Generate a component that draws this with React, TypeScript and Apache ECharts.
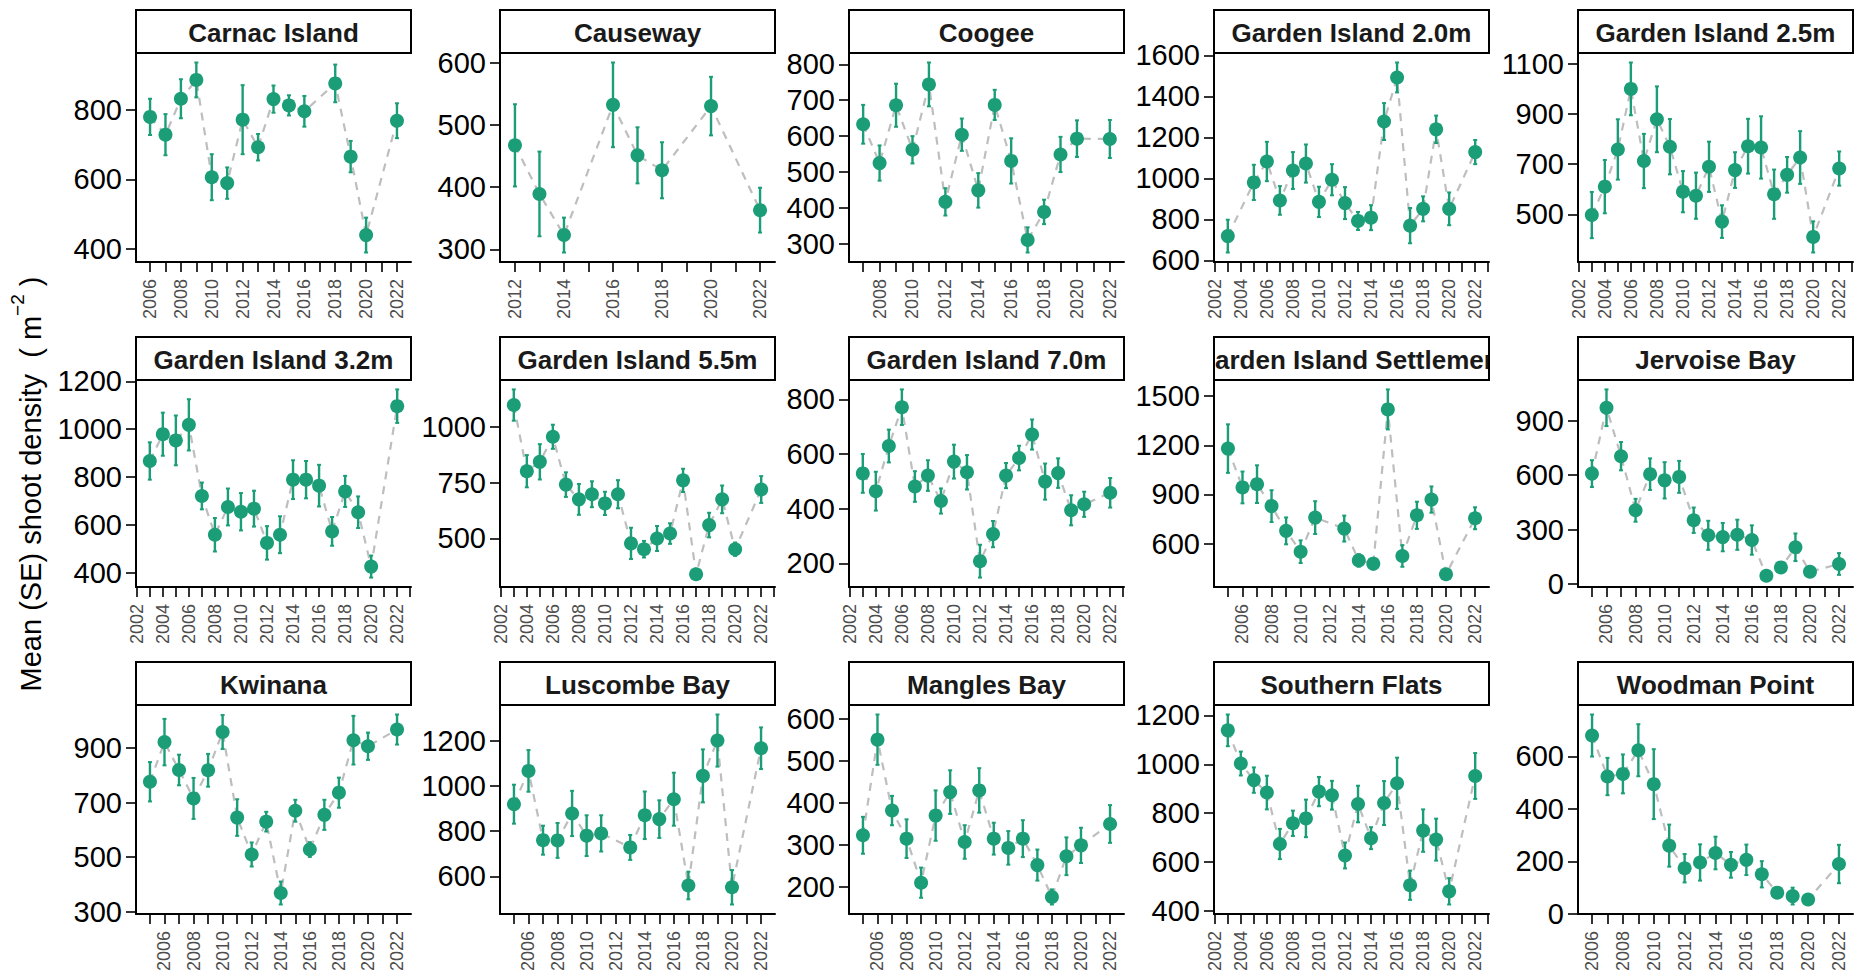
import React, { useEffect, useRef } from "react";
import * as echarts from "echarts";

// ---------------- DATA ----------------
const siteNames = [
  "Carnac Island", "Causeway", "Coogee", "Garden Island 2.0m", "Garden Island 2.5m",
  "Garden Island 3.2m", "Garden Island 5.5m", "Garden Island 7.0m", "Garden Island Settlement", "Jervoise Bay",
  "Kwinana", "Luscombe Bay", "Mangles Bay", "Southern Flats", "Woodman Point",
];

const carnacYears = [2006, 2007, 2008, 2009, 2010, 2011, 2012, 2013, 2014, 2015, 2016, 2018, 2019, 2020, 2022];
const carnacMean = [779, 728, 831, 885, 606, 589, 771, 692, 830, 812, 795, 875, 665, 440, 768];
const carnacSE = [52, 59, 56, 50, 66, 45, 99, 38, 39, 29, 44, 54, 45, 50, 50];
const carnacTicks = [400, 600, 800];

const causewayYears = [2012, 2013, 2014, 2016, 2017, 2018, 2020, 2022];
const causewayMean = [467, 389, 323, 532, 451, 427, 530, 363];
const causewaySE = [66, 68, 28, 68, 45, 45, 47, 36];
const causewayTicks = [300, 400, 500, 600];

const coogeeYears = [2007, 2008, 2009, 2010, 2011, 2012, 2013, 2014, 2015, 2016, 2017, 2018, 2019, 2020, 2022];
const coogeeMean = [633, 525, 686, 562, 744, 417, 604, 449, 687, 531, 311, 389, 549, 593, 592];
const coogeeSE = [54, 49, 60, 38, 61, 38, 45, 48, 42, 63, 35, 34, 49, 51, 53];
const coogeeTicks = [300, 400, 500, 600, 700, 800];

const gi20Years = [2003, 2005, 2006, 2007, 2008, 2009, 2010, 2011, 2012, 2013, 2014, 2015, 2016, 2017, 2018, 2019, 2020, 2022];
const gi20Mean = [718, 980, 1082, 892, 1038, 1072, 885, 993, 879, 792, 808, 1277, 1492, 769, 851, 1239, 851, 1128];
const gi20SE = [80, 86, 96, 70, 90, 93, 74, 76, 78, 44, 61, 90, 73, 86, 61, 67, 80, 59];
const gi20Ticks = [600, 800, 1000, 1200, 1400, 1600];

const gi25Years = [2003, 2004, 2005, 2006, 2007, 2008, 2009, 2010, 2011, 2012, 2013, 2014, 2015, 2016, 2017, 2018, 2019, 2020, 2022];
const gi25Mean = [497, 610, 758, 999, 712, 878, 769, 590, 574, 689, 471, 676, 771, 766, 580, 657, 726, 410, 682];
const gi25SE = [92, 106, 120, 105, 108, 131, 110, 82, 92, 100, 65, 71, 109, 124, 98, 71, 105, 62, 68];
const gi25Ticks = [500, 700, 900, 1100];

const gi32Years = [2003, 2004, 2005, 2006, 2007, 2008, 2009, 2010, 2011, 2012, 2013, 2014, 2015, 2016, 2017, 2018, 2019, 2020, 2022];
const gi32Mean = [867, 979, 953, 1018, 721, 559, 675, 655, 668, 525, 559, 789, 789, 764, 573, 740, 653, 426, 1096];
const gi32SE = [78, 90, 104, 107, 56, 70, 77, 78, 75, 70, 77, 81, 78, 87, 60, 65, 66, 46, 70];
const gi32Ticks = [400, 600, 800, 1000, 1200];

const gi55Years = [2003, 2004, 2005, 2006, 2007, 2008, 2009, 2010, 2011, 2012, 2013, 2014, 2015, 2016, 2017, 2018, 2019, 2020, 2022];
const gi55Mean = [1097, 801, 843, 955, 741, 675, 698, 657, 698, 478, 452, 500, 522, 760, 340, 560, 675, 452, 719];
const gi55SE = [70, 72, 79, 54, 55, 69, 58, 52, 63, 70, 37, 56, 46, 52, 15, 55, 62, 30, 60];
const gi55Ticks = [500, 750, 1000];

const gi70Years = [2003, 2004, 2005, 2006, 2007, 2008, 2009, 2010, 2011, 2012, 2013, 2014, 2015, 2016, 2017, 2018, 2019, 2020, 2022];
const gi70Mean = [529, 464, 629, 771, 481, 521, 428, 572, 533, 208, 307, 521, 585, 671, 499, 530, 394, 416, 458];
const gi70SE = [71, 71, 60, 65, 56, 56, 46, 62, 63, 60, 48, 46, 45, 55, 66, 54, 55, 46, 54];
const gi70Ticks = [200, 400, 600, 800];

const settleYears = [2005, 2006, 2007, 2008, 2009, 2010, 2011, 2013, 2014, 2015, 2016, 2017, 2018, 2019, 2020, 2022];
const settleMean = [1180, 943, 963, 829, 678, 551, 759, 692, 498, 478, 1419, 525, 773, 869, 413, 755];
const settleSE = [148, 97, 115, 97, 82, 69, 100, 79, 38, 35, 122, 66, 83, 80, 20, 67];
const settleTicks = [600, 900, 1200, 1500];

const jervoiseYears = [2005, 2006, 2007, 2008, 2009, 2010, 2011, 2012, 2013, 2014, 2015, 2016, 2017, 2018, 2019, 2020, 2022];
const jervoiseMean = [609, 972, 705, 407, 606, 572, 591, 352, 269, 259, 272, 243, 46, 92, 203, 68, 111];
const jervoiseSE = [74, 101, 78, 63, 87, 100, 88, 70, 80, 78, 83, 81, 10, 15, 76, 15, 60];
const jervoiseTicks = [0, 300, 600, 900];

const kwinanaYears = [2005, 2006, 2007, 2008, 2009, 2010, 2011, 2012, 2013, 2014, 2015, 2016, 2017, 2018, 2019, 2020, 2022];
const kwinanaMean = [776, 921, 819, 715, 818, 958, 645, 510, 630, 369, 670, 528, 655, 736, 928, 906, 967];
const kwinanaSE = [72, 85, 56, 75, 60, 62, 67, 44, 36, 42, 40, 27, 55, 55, 89, 50, 55];
const kwinanaTicks = [300, 500, 700, 900];

const luscombeYears = [2005, 2006, 2007, 2008, 2009, 2010, 2011, 2013, 2014, 2015, 2016, 2017, 2018, 2019, 2020, 2022];
const luscombeMean = [919, 1066, 760, 759, 878, 780, 790, 728, 870, 853, 941, 560, 1044, 1200, 552, 1166];
const luscombeSE = [86, 92, 64, 77, 100, 90, 80, 55, 105, 83, 117, 61, 117, 115, 76, 92];
const luscombeTicks = [600, 800, 1000, 1200];

const manglesYears = [2005, 2006, 2007, 2008, 2009, 2010, 2011, 2012, 2013, 2014, 2015, 2016, 2017, 2018, 2019, 2020, 2022];
const manglesMean = [323, 551, 382, 315, 210, 370, 426, 307, 430, 315, 293, 315, 252, 176, 273, 299, 350];
const manglesSE = [44, 60, 35, 46, 36, 60, 52, 40, 53, 38, 40, 44, 37, 18, 45, 42, 45];
const manglesTicks = [200, 300, 400, 500, 600];

const southernYears = [2003, 2004, 2005, 2006, 2007, 2008, 2009, 2010, 2011, 2012, 2013, 2014, 2015, 2016, 2017, 2018, 2019, 2020, 2022];
const southernMean = [1139, 1003, 935, 884, 673, 758, 778, 888, 873, 626, 837, 697, 841, 922, 504, 728, 691, 479, 952];
const southernSE = [65, 49, 52, 69, 62, 52, 77, 60, 59, 53, 75, 45, 90, 105, 60, 87, 86, 54, 94];
const southernTicks = [400, 600, 800, 1000, 1200];

const woodmanYears = [2006, 2007, 2008, 2009, 2010, 2011, 2012, 2013, 2014, 2015, 2016, 2017, 2018, 2019, 2020, 2022];
const woodmanMean = [679, 523, 533, 623, 494, 260, 174, 196, 232, 187, 206, 151, 81, 68, 55, 190];
const woodmanSE = [80, 71, 74, 99, 133, 80, 54, 69, 62, 49, 58, 50, 15, 32, 10, 73];
const woodmanTicks = [0, 200, 400, 600];

const yAxisTitle = "Mean (SE) shoot density";

const panels = [
  { years: carnacYears, mean: carnacMean, se: carnacSE, ticks: carnacTicks },
  { years: causewayYears, mean: causewayMean, se: causewaySE, ticks: causewayTicks },
  { years: coogeeYears, mean: coogeeMean, se: coogeeSE, ticks: coogeeTicks },
  { years: gi20Years, mean: gi20Mean, se: gi20SE, ticks: gi20Ticks },
  { years: gi25Years, mean: gi25Mean, se: gi25SE, ticks: gi25Ticks },
  { years: gi32Years, mean: gi32Mean, se: gi32SE, ticks: gi32Ticks },
  { years: gi55Years, mean: gi55Mean, se: gi55SE, ticks: gi55Ticks },
  { years: gi70Years, mean: gi70Mean, se: gi70SE, ticks: gi70Ticks },
  { years: settleYears, mean: settleMean, se: settleSE, ticks: settleTicks },
  { years: jervoiseYears, mean: jervoiseMean, se: jervoiseSE, ticks: jervoiseTicks },
  { years: kwinanaYears, mean: kwinanaMean, se: kwinanaSE, ticks: kwinanaTicks },
  { years: luscombeYears, mean: luscombeMean, se: luscombeSE, ticks: luscombeTicks },
  { years: manglesYears, mean: manglesMean, se: manglesSE, ticks: manglesTicks },
  { years: southernYears, mean: southernMean, se: southernSE, ticks: southernTicks },
  { years: woodmanYears, mean: woodmanMean, se: woodmanSE, ticks: woodmanTicks },
];

// ---------------- LAYOUT / STYLE ----------------
const W = 1861;
const H = 977;
const COL_LEFT = [136, 500, 849, 1214, 1578];
const PANEL_W = 275;
const ROW_GEOM = [
  { strip: 10, top: 53, bottom: 262 },
  { strip: 337, top: 380, bottom: 587 },
  { strip: 662, top: 705, bottom: 914 },
];
const GREEN = "#1B9E77";
const FONT = "'Liberation Sans', Arial, Helvetica, sans-serif";

function buildOption() {
  const grid: any[] = [];
  const xAxis: any[] = [];
  const yAxis: any[] = [];
  const series: any[] = [];
  const graphic: any[] = [];

  panels.forEach((p, i) => {
    const col = i % 5;
    const row = Math.floor(i / 5);
    const left = COL_LEFT[col];
    const g = ROW_GEOM[row];

    grid.push({ left, top: g.top, width: PANEL_W, height: g.bottom - g.top, containLabel: false });

    const first = p.years[0];
    const last = p.years[p.years.length - 1];
    const xPad = 0.1 + 0.05 * (last - first + 0.2);
    const xMin = first - xPad;
    const xMax = last + xPad;
    const tickYears: number[] = [];
    for (let y = Math.ceil(xMin); y <= Math.floor(xMax); y++) tickYears.push(y);
    const labelYears = tickYears.filter((y) => y % 2 === 0);

    let lo = Infinity;
    let hi = -Infinity;
    p.mean.forEach((m, k) => {
      lo = Math.min(lo, m - p.se[k]);
      hi = Math.max(hi, m + p.se[k]);
    });
    const yPad = 0.05 * (hi - lo);

    xAxis.push({
      gridIndex: i,
      type: "value",
      min: xMin,
      max: xMax,
      axisLine: { show: true, onZero: false, lineStyle: { color: "#000", width: 2 } },
      axisTick: { show: true, length: 10, customValues: tickYears, lineStyle: { color: "#000", width: 1.6 } },
      axisLabel: {
        customValues: labelYears,
        rotate: 90,
        color: "#4D4D4D",
        fontSize: 18,
        margin: 17,
        fontFamily: FONT,
        formatter: (v: number) => String(v),
      },
      splitLine: { show: false },
    });

    yAxis.push({
      gridIndex: i,
      type: "value",
      min: lo - yPad,
      max: hi + yPad,
      axisLine: { show: true, onZero: false, lineStyle: { color: "#000", width: 2 } },
      axisTick: { show: true, length: 10, customValues: p.ticks, lineStyle: { color: "#000", width: 1.6 } },
      axisLabel: {
        customValues: p.ticks,
        color: "#000",
        fontSize: 29,
        margin: 14,
        fontFamily: FONT,
        formatter: (v: number) => String(v),
      },
      splitLine: { show: false },
    });

    series.push({
      type: "line",
      xAxisIndex: i,
      yAxisIndex: i,
      data: p.years.map((y, k) => [y, p.mean[k]]),
      symbol: "none",
      showSymbol: false,
      silent: true,
      lineStyle: { color: "#BEBEBE", width: 2.2, type: [8, 7] },
      z: 1,
    });

    series.push({
      type: "custom",
      xAxisIndex: i,
      yAxisIndex: i,
      data: p.years.map((y, k) => [y, p.mean[k], p.se[k]]),
      encode: { x: 0, y: 1 },
      silent: true,
      z: 2,
      renderItem: (params: any, api: any) => {
        const x = api.value(0);
        const m = api.value(1);
        const s = api.value(2);
        const a = api.coord([x, m + s]);
        const b = api.coord([x, m - s]);
        return {
          type: "group",
          children: [
            { type: "line", shape: { x1: a[0], y1: a[1], x2: b[0], y2: b[1] }, style: { stroke: GREEN, lineWidth: 2.4 } },
            { type: "line", shape: { x1: a[0] - 2, y1: a[1], x2: a[0] + 2, y2: a[1] }, style: { stroke: GREEN, lineWidth: 2 } },
            { type: "line", shape: { x1: b[0] - 2, y1: b[1], x2: b[0] + 2, y2: b[1] }, style: { stroke: GREEN, lineWidth: 2 } },
          ],
        };
      },
    });

    series.push({
      type: "scatter",
      xAxisIndex: i,
      yAxisIndex: i,
      data: p.years.map((y, k) => [y, p.mean[k]]),
      symbol: "circle",
      symbolSize: 14,
      itemStyle: { color: GREEN, opacity: 1 },
      silent: true,
      z: 3,
    });

    // strip
    const sh = g.top - g.strip;
    graphic.push({
      type: "rect",
      z: 10,
      shape: { x: left, y: g.strip, width: PANEL_W, height: sh },
      style: { fill: "#fff", stroke: "none" },
    });
    graphic.push({
      type: "text",
      z: 11,
      x: left + PANEL_W / 2,
      y: g.strip + sh / 2 + 1,
      style: {
        text: siteNames[i],
        fontSize: 26,
        fontWeight: "bold",
        fontFamily: FONT,
        fill: "#1A1A1A",
        align: "center",
        verticalAlign: "middle",
      },
    });
    // mask text overflowing the strip (only the long title overflows)
    if (i === 8) {
      graphic.push({
        type: "rect",
        z: 12,
        shape: { x: left - 40, y: g.strip - 2, width: 39, height: sh + 4 },
        style: { fill: "#fff", stroke: "none" },
      });
      graphic.push({
        type: "rect",
        z: 12,
        shape: { x: left + PANEL_W + 1, y: g.strip - 2, width: 39, height: sh + 4 },
        style: { fill: "#fff", stroke: "none" },
      });
    }
    graphic.push({
      type: "rect",
      z: 13,
      shape: { x: left, y: g.strip, width: PANEL_W, height: sh },
      style: { fill: "none", stroke: "#000", lineWidth: 2 },
    });
  });

  graphic.push({
    type: "text",
    z: 20,
    x: 31,
    y: 484,
    rotation: Math.PI / 2,
    style: {
      text: yAxisTitle + "\u00A0 (\u00A0m{sup|\u22122}\u00A0)",
      fontSize: 29,
      fontFamily: FONT,
      fill: "#000",
      align: "center",
      verticalAlign: "middle",
      lineHeight: 46,
      rich: {
        sup: { fontSize: 19, fontFamily: FONT, fill: "#000", verticalAlign: "top", lineHeight: 20 },
      },
    },
  });

  return {
    animation: false,
    backgroundColor: "#fff",
    textStyle: { fontFamily: FONT },
    grid,
    xAxis,
    yAxis,
    series,
    graphic,
  };
}

export default function App() {
  const ref = useRef<HTMLDivElement>(null);
  useEffect(() => {
    document.body.style.margin = "0";
    if (!ref.current) return;
    const chart = echarts.init(ref.current, undefined, { renderer: "svg" });
    chart.setOption(buildOption() as any);
    return () => chart.dispose();
  }, []);
  return <div ref={ref} style={{ width: W, height: H, background: "#fff" }} />;
}
